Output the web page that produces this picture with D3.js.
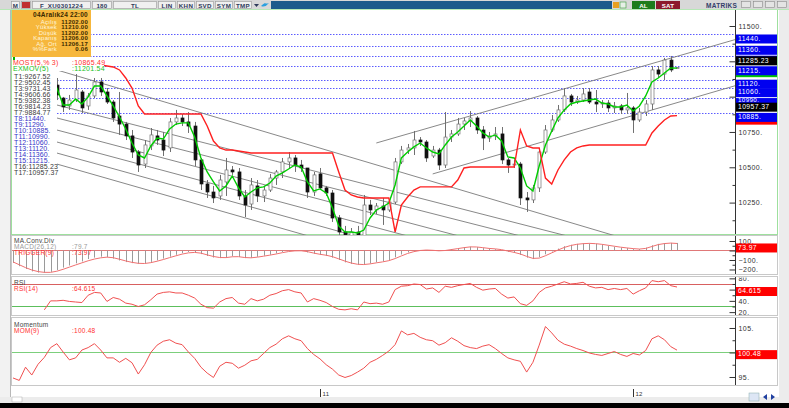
<!DOCTYPE html>
<html>
<head>
<meta charset="utf-8">
<title>F_XU0301224</title>
<script src="https://cdn.jsdelivr.net/npm/d3@7"></script>
<style>
  body { margin: 0; background: #fff; }
  svg { display: block; font-family: "Liberation Sans", Arial, sans-serif; }
</style>
</head>
<body>
<div id="chart"></div>
<script>
// 180 dk barlar, F_XU0301224 (k = bar sirasi)
const opens = [11090, 11100, 11120, 11070, 11090, 11130, 11075,
  11082, 10990, 10934, 10976, 11033, 10934, 11005, 11104, 11033, 10962,
  10863, 10806, 10722, 10608, 10523, 10651, 10722, 10693, 10637, 10821,
  10849, 10821, 10792, 10552, 10382, 10325, 10297, 10396, 10481, 10467,
  10297, 10240, 10368, 10297, 10339, 10424, 10467, 10538, 10566, 10516,
  10495, 10325, 10453, 10354, 10318, 10141, 10042, 10014, 10042, 10014,
  10233, 10198, 10226, 10198, 10254, 10538, 10622, 10637, 10693, 10679,
  10580, 10622, 10516, 10714, 10736, 10806, 10828, 10849, 10764, 10707,
  10722, 10736, 10552, 10516, 10523, 10283, 10269, 10354, 10608, 10764,
  10835, 10906, 11005, 10962, 10976, 11033, 10962, 10948, 10955, 10920,
  10934, 10906, 10920, 10835, 10891, 10948, 11189, 11160, 11259, 11202];
const highs = [11120, 11140, 11130, 11110, 11150, 11140, 11100,
  11132, 10998, 11012, 11160, 11047, 11026, 11132, 11132, 11061, 10976,
  11033, 10821, 10764, 10622, 10693, 10778, 10764, 10750, 10849, 10906,
  10877, 10891, 10821, 10566, 10410, 10368, 10446, 10566, 10509, 10495,
  10339, 10424, 10410, 10368, 10453, 10481, 10566, 10608, 10587, 10552,
  10495, 10467, 10495, 10368, 10339, 10162, 10085, 10070, 10085, 10304,
  10269, 10247, 10283, 10269, 10566, 10651, 10665, 10757, 10714, 10693,
  10651, 10637, 10891, 10764, 10849, 10849, 10898, 10863, 10792, 10750,
  10785, 10785, 10566, 10552, 10538, 10325, 10375, 10637, 10799, 10870,
  10941, 11061, 11019, 11005, 11061, 11061, 11047, 10976, 10976, 10962,
  10948, 11026, 10934, 10920, 10976, 11217, 11217, 11274, 11288, 11210];
const lows = [11060, 11080, 11050, 11040, 11080, 11060, 11050,
  10976, 10891, 10906, 10962, 10884, 10906, 10990, 11005, 10948, 10821,
  10729, 10693, 10566, 10467, 10495, 10622, 10658, 10580, 10608, 10799,
  10792, 10743, 10509, 10339, 10283, 10247, 10269, 10297, 10446, 10269,
  10148, 10198, 10254, 10254, 10325, 10375, 10424, 10495, 10467, 10467,
  10283, 10297, 10339, 10297, 10113, 9985, 9950, 9929, 9950, 10000,
  10162, 10169, 10092, 10184, 10240, 10523, 10594, 10587, 10651, 10538,
  10566, 10481, 10495, 10679, 10722, 10764, 10785, 10736, 10622, 10679,
  10693, 10523, 10460, 10495, 10233, 10184, 10247, 10325, 10594, 10750,
  10821, 10891, 10934, 10948, 10962, 10948, 10891, 10920, 10891, 10884,
  10877, 10877, 10743, 10821, 10863, 10906, 11132, 11118, 11174, 11202];
const closes = [11100, 11120, 11070, 11090, 11130, 11075, 11082,
  11012, 10927, 10976, 11047, 10920, 11005, 11104, 11033, 10962, 10849,
  10806, 10722, 10608, 10516, 10658, 10729, 10693, 10622, 10821, 10849,
  10821, 10792, 10552, 10382, 10325, 10283, 10410, 10481, 10467, 10297,
  10233, 10375, 10297, 10339, 10424, 10467, 10538, 10566, 10516, 10495,
  10325, 10446, 10354, 10318, 10141, 10042, 10014, 10042, 10000, 10233,
  10198, 10226, 10198, 10254, 10538, 10622, 10637, 10693, 10679, 10566,
  10622, 10516, 10714, 10736, 10806, 10828, 10849, 10764, 10707, 10722,
  10736, 10552, 10516, 10523, 10283, 10269, 10354, 10608, 10764, 10835,
  10906, 11005, 10962, 10976, 11019, 10962, 10948, 10955, 10920, 10934,
  10906, 10920, 10835, 10891, 10948, 11189, 11160, 11259, 11189, 11206];

const exmovValues = [11085, 11095, 11088, 11089, 11103, 11094, 11090,
  11061, 10941, 10941, 10983, 10948, 10998, 11075, 11075, 11005, 10934,
  10856, 10771, 10672, 10587, 10566, 10651, 10707, 10700, 10771, 10806,
  10814, 10814, 10714, 10566, 10467, 10396, 10332, 10368, 10438, 10354,
  10290, 10325, 10354, 10361, 10389, 10438, 10460, 10488, 10516, 10502,
  10396, 10332, 10347, 10318, 10212, 10085, 10042, 10042, 10035, 10056,
  10141, 10198, 10219, 10247, 10375, 10566, 10608, 10644, 10672, 10637,
  10608, 10594, 10658, 10714, 10750, 10792, 10835, 10792, 10743, 10714,
  10729, 10686, 10573, 10566, 10495, 10368, 10332, 10509, 10658, 10757,
  10849, 10906, 10948, 10962, 10969, 10976, 10983, 10955, 10948, 10927,
  10927, 10941, 10898, 10934, 11005, 11104, 11132, 11167, 11203, 11201.54];
const mostValues = [null, null, null, null, null, null, null,
  null, null, null, null, null, null, 11231, 11224, 11217, 11210,
  11189, 11132, 11061, 10934, 10877, 10877, 10877, 10877, 10877, 10877,
  10877, 10877, 10877, 10877, 10792, 10686, 10637, 10622, 10622, 10615,
  10608, 10601, 10601, 10601, 10601, 10601, 10601, 10601, 10601, 10601,
  10601, 10601, 10601, 10601, 10601, 10467, 10339, 10304, 10290, 10283,
  10283, 10283, 10283, 10283, 10042, 10233, 10290, 10339, 10361, 10361,
  10361, 10361, 10361, 10361, 10410, 10495, 10502, 10502, 10502, 10502,
  10502, 10502, 10502, 10502, 10764, 10651, 10637, 10637, 10424, 10382,
  10481, 10552, 10608, 10637, 10651, 10658, 10658, 10658, 10658, 10658,
  10658, 10658, 10658, 10658, 10658, 10743, 10792, 10835, 10863, 10865.49];

const macdValues = [-130, -165, -195, -220, -232, -235, -225, -205, -180, -158,
  -135, -115, -90, -75, -65, -68, -85, -105, -122, -133,
  -140, -135, -120, -104, -85, -65, -45, -28, -15, -18,
  -38, -58, -74, -80, -72, -60, -68, -80, -76, -66,
  -55, -44, -30, -15, -5, 0, -4, -20, -34, -45,
  -56, -75, -100, -125, -140, -150, -146, -136, -125, -115,
  -100, -72, -42, -20, -5, 5, 5, 0, -5, 5,
  15, 25, 35, 40, 35, 25, 20, 14, 4, -15,
  -26, -46, -75, -90, -70, -40, -10, 20, 45, 60,
  70, 75, 75, 70, 60, 50, 40, 30, 25, 15,
  15, 30, 55, 70, 78, 80, 79.7];
const triggerValues = [-120, -150, -180, -205, -222, -230, -230, -218, -198, -175,
  -152, -130, -108, -90, -77, -70, -76, -92, -110, -125,
  -135, -137, -128, -113, -95, -75, -56, -38, -25, -20,
  -28, -46, -63, -74, -75, -66, -65, -74, -77, -70,
  -60, -49, -37, -23, -11, -4, -3, -12, -27, -40,
  -50, -65, -88, -112, -132, -145, -148, -141, -130, -120,
  -107, -85, -57, -31, -12, 0, 5, 2, -3, 0,
  10, 20, 30, 38, 37, 30, 22, 17, 9, -6,
  -20, -37, -62, -83, -80, -55, -25, 5, 32, 52,
  65, 72, 75, 72, 65, 55, 45, 35, 27, 20,
  15, 22, 42, 62, 73, 78, 73.97];
const rsiValues = [null, null, null, null, null, 24, 40, 40, 41, 39,
  38, 37, 50, 55, 54, 39, 46, 43, 36, 34,
  30, 33, 42, 52, 55, 56, 54, 54, 50, 45,
  34, 28, 27, 38, 44, 46, 36, 34, 44, 40,
  43, 50, 53, 58, 60, 56, 54, 38, 44, 41,
  37, 30, 25, 24, 26, 24, 38, 35, 36, 34,
  38, 60, 66, 67, 70, 69, 61, 63, 55, 66,
  64, 67, 69, 71, 64, 59, 61, 62, 52, 45,
  47, 35, 32, 40, 55, 63, 66, 70, 74, 70,
  71, 73, 66, 63, 64, 60, 62, 60, 62, 52,
  58, 63, 76, 74, 76, 67, 64.615];
const momValues = [94.8, 94.3, 97.0, 95.4, 97.6, 99.0, 101.0, 101.8, 100.1, 98.5,
  98.9, 100.5, 101.0, 101.8, 100.5, 98.9, 98.9, 98.0, 98.8, 97.9,
  95.6, 97.5, 100.0, 101.5, 102.3, 102.6, 101.9, 101.6, 100.1, 98.8,
  97.0, 95.8, 94.9, 97.2, 98.0, 97.8, 96.8, 97.4, 98.3, 98.6,
  99.8, 101.0, 101.7, 102.8, 103.4, 102.8, 102.4, 100.8, 99.6, 98.7,
  97.5, 96.6, 95.4, 94.9, 95.3, 96.0, 96.8, 98.0, 98.6, 99.4,
  100.3, 101.6, 104.4, 103.6, 103.9, 103.1, 102.6, 102.4, 101.5, 102.0,
  103.0, 102.3, 101.4, 101.0, 100.8, 101.3, 101.6, 100.8, 99.8, 98.9,
  98.5, 98.2, 96.0, 98.0, 101.5, 105.3, 104.0, 102.5, 101.7, 101.3,
  100.8, 100.4, 99.9, 99.6, 99.4, 99.8, 100.2, 99.6, 99.2, 99.8,
  99.5, 100.4, 102.8, 103.4, 102.6, 101.2, 100.48];

// T1-T7 dusen trend cizgileri (baslangic fiyati, son bardaki deger)
const downStartIndex = 7;
const downStarts = [10523, 10679, 10849, 10764, 10601, 10941, 11189];
const downEnds = [9267.52, 9502.45, 9731.43, 9606.66, 9382.38, 9814.23, 9884.77];
// T8-T15 yatay seviyeler
const hLevels = [11440, 11290, 10885, 10990, 11060, 11120, 11360, 11215];
// T16-T17 yukselen kanal
const channelStartIndex = [58, 67];
const channelStarts = [10672, 10453];
const channelEnds = [11285.23, 10957.37];

const infoDate = "04Aralık24 22:00";
const infoLabels = ["Açılış", "Yüksek", "Düşük", "Kapanış", "Ağ. Ort", "%%Fark"];
const infoValues = ["11202.00", "11210.00", "11202.00", "11206.00", "11206.17", "0.06"];

const xTickIndex = [49, 99];
const xTickLabels = ["11", "12"];

class MatriksChart {
  constructor() {
    this.width = 789;
    this.height = 408;
    this.left = 12;
    this.axisX = 735;
    this.right = 778;
    this.boxHeight = 9;
    this.panels = {
      main: { top: 10, bottom: 235 },
      macd: { top: 236, bottom: 275 },
      rsi: { top: 277, bottom: 316 },
      mom: { top: 318, bottom: 386 },
    };
    this.init();
  }

  init() {
    const p = this.panels;
    this.last = closes.length - 1;
    this.x = d3.scaleLinear().domain([0, this.last]).range([13, 677]);
    this.yMain = d3.scaleLinear().domain([10020.7, 11613.3]).range([p.main.bottom, p.main.top]);
    this.yMacd = d3.scaleLinear().domain([-257.9, 152.6]).range([p.macd.bottom, p.macd.top]);
    this.yRsi = d3.scaleLinear().domain([13.1, 82.4]).range([p.rsi.bottom, p.rsi.top]);
    this.yMom = d3.scaleLinear().domain([93.16, 107.04]).range([p.mom.bottom, p.mom.top]);

    this.svg = d3.select("#chart").append("svg")
      .attr("width", this.width).attr("height", this.height);
    const defs = this.svg.append("defs");
    Object.entries(p).forEach(([key, d]) => {
      defs.append("clipPath").attr("id", `clip-${key}`).append("rect")
        .attr("x", this.left).attr("y", d.top)
        .attr("width", this.axisX - this.left).attr("height", d.bottom - d.top);
      defs.append("clipPath").attr("id", `clip-axis-${key}`).append("rect")
        .attr("x", this.axisX - 8).attr("y", d.top + 0.5)
        .attr("width", this.right - this.axisX + 8).attr("height", d.bottom - d.top - 1);
    });
    this.render();
  }

  render() {
    this.renderFrame();
    this.renderMain();
    this.renderMacd();
    this.renderRsi();
    this.renderMom();
    this.renderLegends();
    this.renderAxes();
    this.renderXAxis();
    this.renderToolbar();
  }

  px(i) {
    return Math.round(this.x(i)) + 0.5;
  }

  renderFrame() {
    const s = this.svg;
    s.append("rect").attr("width", this.width).attr("height", this.height).attr("fill", "#fff");
    s.append("rect").attr("x", 0).attr("y", 10).attr("width", 10).attr("height", 393).attr("fill", "#f2f2f2");
    s.append("line").attr("x1", 10.5).attr("x2", 10.5).attr("y1", 10).attr("y2", 403).attr("stroke", "#b8b8b8");
    s.append("rect").attr("x", 779).attr("y", 10).attr("width", 10).attr("height", 393).attr("fill", "#ececec");
    s.append("rect").attr("x", 0).attr("y", 397).attr("width", this.width).attr("height", 6).attr("fill", "#ececec");
    s.append("rect").attr("x", 0).attr("y", 403).attr("width", this.width).attr("height", 5).attr("fill", "#000");

    Object.entries(this.panels).forEach(([key, d]) => {
      s.append("rect")
        .attr("x", this.left - 0.5).attr("y", d.top - 0.5)
        .attr("width", this.right - this.left).attr("height", d.bottom - d.top)
        .attr("fill", "none")
        .attr("stroke", key === "main" ? "#9ee09e" : "#c8c8c8");
    });
  }

  renderMain() {
    const x = this.x, y = this.yMain;
    const g = this.svg.append("g").attr("clip-path", "url(#clip-main)");
    const xEnd = x.invert(this.axisX);

    g.append("g").selectAll("line").data(hLevels).join("line")
      .attr("x1", this.left).attr("x2", this.axisX)
      .attr("y1", (d) => Math.round(y(d)) + 0.5).attr("y2", (d) => Math.round(y(d)) + 0.5)
      .attr("stroke", "#5c5cff").attr("stroke-dasharray", "1.5,1.5");

    const downLines = downStarts.map((v, i) => ({ i0: downStartIndex, v0: v, i1: this.last, v1: downEnds[i] }));
    const channel = channelStarts.map((v, i) => ({ i0: channelStartIndex[i], v0: v, i1: this.last, v1: channelEnds[i] }));
    const extend = (d) => d.v0 + ((d.v1 - d.v0) * (xEnd - d.i0)) / (d.i1 - d.i0);

    g.append("g").selectAll("line").data(downLines.concat(channel)).join("line")
      .attr("x1", (d) => x(d.i0)).attr("y1", (d) => y(d.v0))
      .attr("x2", this.axisX).attr("y2", (d) => y(extend(d)))
      .attr("stroke", "#7a7a7a").attr("stroke-width", 0.9);

    const bars = closes.map((c, i) => ({ i, o: opens[i], h: highs[i], l: lows[i], c }));
    g.append("g").selectAll("line").data(bars).join("line")
      .attr("x1", (d) => this.px(d.i)).attr("x2", (d) => this.px(d.i))
      .attr("y1", (d) => y(d.h)).attr("y2", (d) => y(d.l))
      .attr("stroke", "#707070");
    g.append("g").selectAll("rect").data(bars).join("rect")
      .attr("x", (d) => Math.round(x(d.i)) - 1)
      .attr("width", 3)
      .attr("y", (d) => y(Math.max(d.o, d.c)))
      .attr("height", (d) => Math.max(1, Math.abs(y(d.o) - y(d.c))))
      .attr("fill", (d) => (d.c >= d.o ? "#fff" : "#111"))
      .attr("stroke", (d) => (d.c >= d.o ? "#707070" : "#111"))
      .attr("stroke-width", 0.7);

    const line = d3.line().defined((d) => d != null).x((d, i) => x(i)).y((d) => y(d));
    g.append("path").datum(exmovValues).attr("d", line)
      .attr("fill", "none").attr("stroke", "#00cc00").attr("stroke-width", 1.4);
    g.append("path").datum(mostValues).attr("d", line)
      .attr("fill", "none").attr("stroke", "#ff2020").attr("stroke-width", 1.4);
  }

  renderMacd() {
    const x = this.x, y = this.yMacd;
    const g = this.svg.append("g").attr("clip-path", "url(#clip-macd)");
    g.append("line").attr("x1", this.left).attr("x2", this.axisX)
      .attr("y1", Math.round(y(0)) + 0.5).attr("y2", Math.round(y(0)) + 0.5)
      .attr("stroke", "#e07878");
    g.append("g").selectAll("line").data(macdValues).join("line")
      .attr("x1", (d, i) => this.px(i)).attr("x2", (d, i) => this.px(i))
      .attr("y1", y(0)).attr("y2", (d) => y(d))
      .attr("stroke", "#9a9a9a");
    g.append("path").datum(triggerValues)
      .attr("d", d3.line().x((d, i) => x(i)).y((d) => y(d)))
      .attr("fill", "none").attr("stroke", "#f07070").attr("stroke-width", 1);
  }

  renderRsi() {
    const x = this.x, y = this.yRsi;
    const g = this.svg.append("g").attr("clip-path", "url(#clip-rsi)");
    [[70, "#d86060"], [30, "#5cbf5c"]].forEach(([v, c]) => {
      g.append("line").attr("x1", this.left).attr("x2", this.axisX)
        .attr("y1", Math.round(y(v)) + 0.5).attr("y2", Math.round(y(v)) + 0.5).attr("stroke", c);
    });
    g.append("path").datum(rsiValues)
      .attr("d", d3.line().defined((d) => d != null).x((d, i) => x(i)).y((d) => y(d)))
      .attr("fill", "none").attr("stroke", "#f05050").attr("stroke-width", 1);
  }

  renderMom() {
    const x = this.x, y = this.yMom;
    const g = this.svg.append("g").attr("clip-path", "url(#clip-mom)");
    g.append("line").attr("x1", this.left).attr("x2", this.axisX)
      .attr("y1", Math.round(y(100)) + 0.5).attr("y2", Math.round(y(100)) + 0.5).attr("stroke", "#7ccf7c");
    g.append("path").datum(momValues)
      .attr("d", d3.line().x((d, i) => x(i)).y((d) => y(d)))
      .attr("fill", "none").attr("stroke", "#f05050").attr("stroke-width", 1);
  }

  text(g, x, y, str, opts = {}) {
    return g.append("text").attr("x", x).attr("y", y)
      .attr("font-size", opts.size || 6.5)
      .attr("font-weight", opts.weight || null)
      .attr("letter-spacing", opts.ls || 0.25)
      .attr("text-anchor", opts.anchor || "start")
      .attr("fill", opts.fill || "#333")
      .text(str);
  }

  renderLegends() {
    const g = this.svg.append("g");
    // bilgi kutusu
    g.append("rect").attr("x", 12).attr("y", 10).attr("width", 79).attr("height", 47).attr("fill", "#f6b73c");
    this.text(g, 88, 17, infoDate, { weight: "bold", anchor: "end", fill: "#3a2a00" });
    infoLabels.forEach((l, i) => {
      this.text(g, 57, 23.5 + i * 5.5, l, { anchor: "end", fill: "#fff6dc", size: 6 });
      this.text(g, 88, 23.5 + i * 5.5, infoValues[i], { anchor: "end", weight: "bold", fill: "#3a2a00", size: 6 });
    });

    // MOST / EXMOV
    g.append("rect").attr("x", 12).attr("y", 57).attr("width", 92).attr("height", 14).attr("fill", "#fff");
    g.append("rect").attr("x", 13).attr("y", 57).attr("width", 2).attr("height", 3).attr("fill", "#00b000");
    this.text(g, 13, 64.5, "MOST(5,% 3)", { fill: "#ff3030", size: 7 });
    this.text(g, 72, 64.5, ":" + d3.format(".2f")(mostValues[this.last]), { fill: "#ff3030", size: 7 });
    this.text(g, 13, 71, "EXMOV(5)", { fill: "#20c020", size: 7 });
    this.text(g, 72, 71, ":" + d3.format(".2f")(exmovValues[this.last]), { fill: "#20c020", size: 7 });

    // T etiketleri
    const fmt = (v) => (Number.isInteger(v) ? v + "." : d3.format(".2f")(v));
    const tRows = downEnds.map((v) => ({ v, c: "#3a3a3a" }))
      .concat(hLevels.map((v) => ({ v, c: "#3434c8" })))
      .concat(channelEnds.map((v) => ({ v, c: "#3a3a3a" })));
    g.append("rect").attr("x", 12).attr("y", 72).attr("width", 45).attr("height", 104).attr("fill", "#fff");
    tRows.forEach((d, i) => {
      this.text(g, 14, 78.5 + i * 6.02, `T${i + 1}:${fmt(d.v)}`, { fill: d.c, size: 7, ls: 0.1 });
    });

    // gosterge basliklari
    this.text(g, 14, 242.5, "MA.Conv.Div", { fill: "#444", size: 6.5 });
    this.text(g, 14, 248.5, "MACD(26,12)", { fill: "#999", size: 6.5 });
    this.text(g, 72, 248.5, ":" + macdValues[this.last], { fill: "#999", size: 6.5 });
    this.text(g, 14, 254.5, "TRIGGER(9)", { fill: "#ff3030", size: 6.5 });
    this.text(g, 72, 254.5, ":" + triggerValues[this.last], { fill: "#ff3030", size: 6.5 });

    this.text(g, 14, 285, "RSI", { fill: "#444", size: 6.5 });
    this.text(g, 14, 290.5, "RSI(14)", { fill: "#ff3030", size: 6.5 });
    this.text(g, 72, 290.5, ":" + rsiValues[this.last], { fill: "#ff3030", size: 6.5 });

    this.text(g, 14, 326.5, "Momentum", { fill: "#444", size: 6.5 });
    this.text(g, 14, 332.5, "MOM(9)", { fill: "#ff3030", size: 6.5 });
    this.text(g, 72, 332.5, ":" + momValues[this.last], { fill: "#ff3030", size: 6.5 });
  }

  // sag eksen; kutularin altinda kalan etiketler yazilmaz
  axis(key, scale, major, minor, boxValues) {
    const d = this.panels[key];
    const tops = boxValues.map((v) => scale(v));
    const hidden = (v) => tops.some((t) => scale(v) > t - 2 && scale(v) < t + this.boxHeight + 2);
    const fmt = (v) => (hidden(v) ? "" : d3.format("d")(v) + ".");
    const g = this.svg.append("g").attr("clip-path", `url(#clip-axis-${key})`);
    const gA = g.append("g").attr("transform", `translate(${this.axisX + 0.5},0)`);
    gA.append("g")
      .call(d3.axisRight(scale).tickValues(minor).tickSize(-3).tickFormat(""))
      .call((s) => s.select(".domain").remove())
      .call((s) => s.selectAll("line").attr("stroke", "#333"));
    gA.append("g")
      .call(d3.axisRight(scale).tickValues(major).tickSize(-6).tickPadding(3).tickFormat(fmt))
      .call((s) => s.select(".domain").remove())
      .call((s) => s.selectAll("line").attr("stroke", "#333"))
      .call((s) => s.selectAll("text")
        .attr("font-family", "Liberation Sans, Arial, sans-serif")
        .attr("font-size", 7).attr("letter-spacing", 0.45).attr("fill", "#333"));
    this.svg.append("line")
      .attr("x1", this.axisX + 0.5).attr("x2", this.axisX + 0.5)
      .attr("y1", d.top).attr("y2", d.bottom - 1)
      .attr("stroke", "#333");
    return g;
  }

  valueBox(g, y, fill, str, limit) {
    g.append("rect").attr("x", this.axisX + 1).attr("y", y)
      .attr("width", this.right - this.axisX - 2).attr("height", this.boxHeight).attr("fill", fill);
    if (!str) return;
    // alttaki kutu ustune biniyorsa yazi yukari kayar
    const base = limit != null ? Math.min(y + 6.3, limit - 0.6) : y + 6.3;
    this.text(g, this.axisX + 3, base, str, { fill: "#fff", size: limit != null ? 6.2 : 6.8, ls: 0.4 });
  }

  renderAxes() {
    const yM = this.yMain;
    const lastMain = [exmovValues[this.last], mostValues[this.last]];
    const main = this.axis("main", yM,
      d3.range(10250, 11501, 250), d3.range(10125, 11626, 250),
      hLevels.concat(channelEnds, lastMain));
    this.valueBox(main, yM(exmovValues[this.last]), "#00c800", "");
    this.valueBox(main, yM(mostValues[this.last]), "#ff0000", "");
    const covered = (v) => channelEnds.some((c) => Math.abs(yM(c) - yM(v)) < 3);
    const overlapTop = (v) => {
      const t = channelEnds.map((c) => yM(c)).find((c) => c - yM(v) >= 3 && c - yM(v) < this.boxHeight);
      return t == null ? null : t;
    };
    hLevels.forEach((v) => this.valueBox(main, yM(v), "#0000f0", covered(v) ? "" : v + ".", overlapTop(v)));
    channelEnds.forEach((v) => this.valueBox(main, yM(v), "#000", d3.format(".2f")(v)));

    const tr = triggerValues[this.last];
    const macd = this.axis("macd", this.yMacd, [-200, -100, 0, 100], [-150, -50, 50], [tr]);
    this.valueBox(macd, this.yMacd(tr), "#ff0000", String(tr));

    const rsiLast = rsiValues[this.last];
    const rsi = this.axis("rsi", this.yRsi, [20, 40, 60, 80], [30, 50, 70], [rsiLast]);
    this.valueBox(rsi, this.yRsi(rsiLast), "#ff0000", String(rsiLast));

    const momLast = momValues[this.last];
    const mom = this.axis("mom", this.yMom, [95, 100, 105], [97.5, 102.5], [momLast]);
    this.valueBox(mom, this.yMom(momLast), "#ff0000", String(momLast));
  }

  renderXAxis() {
    const g = this.svg.append("g");
    xTickIndex.forEach((k, i) => {
      const xp = this.px(k);
      g.append("line").attr("x1", xp).attr("x2", xp).attr("y1", 389).attr("y2", 397).attr("stroke", "#333");
      this.text(g, xp + 2, 396, xTickLabels[i], { size: 6, fill: "#333" });
    });
    g.append("rect").attr("x", 12).attr("y", 397).attr("width", 10).attr("height", 5).attr("fill", "#fff").attr("stroke", "#aaa").attr("stroke-width", 0.5);
    g.append("rect").attr("x", 749).attr("y", 393).attr("width", 10).attr("height", 8).attr("fill", "#dde6f5").attr("stroke", "#8aa").attr("stroke-width", 0.5);
    g.append("path").attr("d", "M763,397 l4,-3 v6z M775,397 l-4,-3 v6z").attr("fill", "#2040a0");
  }

  renderToolbar() {
    const g = this.svg.append("g");
    g.append("rect").attr("width", this.width).attr("height", 10).attr("fill", "#d8d8d8");
    g.append("line").attr("x1", 0).attr("x2", this.width).attr("y1", 9.5).attr("y2", 9.5).attr("stroke", "#b6e8b6");
    const buttons = [
      [11, 20, "M"], [21, 31, ""], [32, 91, "F_XU0301224"], [92, 112, "180"], [113, 157, "TL"],
      [158, 176, "LIN"], [177, 195, "KHN"], [196, 214, "SVD"], [215, 233, "SYM"], [234, 252, "TMP"],
    ];
    buttons.forEach(([a, b, t]) => {
      g.append("rect").attr("x", a + 0.5).attr("y", 1.5).attr("width", b - a - 1).attr("height", 7)
        .attr("fill", "#f0f0f0").attr("stroke", "#9a9a9a").attr("stroke-width", 0.6);
      this.text(g, (a + b) / 2, 7.5, t, { anchor: "middle", size: 6.2, weight: "bold", fill: "#2e3a5a", ls: 0.3 });
    });
    g.append("rect").attr("x", 22).attr("y", 2).attr("width", 8).attr("height", 6).attr("fill", "#c03030");
    g.append("path").attr("d", "M254,4 h5 l-2.5,3z").attr("fill", "#2e3a5a");
    g.append("path").attr("d", "M261,6 q4,2 8,-3 q-3,1 -4,0 q-2,1 -4,3z").attr("fill", "#2aa0e0");
    g.append("rect").attr("x", 271).attr("y", 1).attr("width", 341).attr("height", 8).attr("fill", "#1c5a8c");
    g.append("rect").attr("x", 613).attr("y", 2).attr("width", 6).attr("height", 6).attr("fill", "#e8a020");
    g.append("rect").attr("x", 620).attr("y", 2).attr("width", 6).attr("height", 6).attr("fill", "#e6efe6").attr("stroke", "#3a9a3a").attr("stroke-width", 0.6);
    g.append("rect").attr("x", 632).attr("y", 1).attr("width", 23).attr("height", 8).attr("fill", "#1c7c1c");
    this.text(g, 643.5, 7.5, "AL", { anchor: "middle", fill: "#fff", weight: "bold", size: 6.2 });
    g.append("rect").attr("x", 656).attr("y", 1).attr("width", 24).attr("height", 8).attr("fill", "#8c1a2c");
    this.text(g, 668, 7.5, "SAT", { anchor: "middle", fill: "#fff", weight: "bold", size: 6.2 });
    this.text(g, 706, 7.5, "MATRIKS", { fill: "#34406a", weight: "bold", size: 6.5, ls: 0.3 });
    [741, 753, 765, 777].forEach((a) => {
      g.append("rect").attr("x", a + 0.5).attr("y", 1.5).attr("width", 9).attr("height", 6)
        .attr("fill", "#e4e4e4").attr("stroke", "#8a8a8a").attr("stroke-width", 0.6);
    });
  }
}

new MatriksChart();
</script>
</body>
</html>
